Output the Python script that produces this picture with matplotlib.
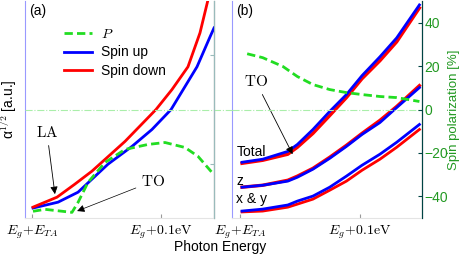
import numpy as np
import matplotlib
matplotlib.use("Agg")
import matplotlib.pyplot as plt

plt.rcParams['font.family'] = ['Liberation Sans', 'DejaVu Sans']
plt.rcParams['mathtext.fontset'] = 'cm'

# Panel (a): absorption (a.u.) and spin polarization (%) vs photon energy offset (eV)
a_down_x = [0.0008, 0.0194, 0.0330, 0.0465, 0.0721, 0.0961, 0.1085, 0.1209, 0.1302, 0.1364, 0.1395]
a_down_y = [0.50, 0.96, 1.55, 2.16, 3.53, 5.00, 5.92, 6.97, 8.53, 10.05, 10.60]
a_up_x = [0.0008, 0.0202, 0.0357, 0.0589, 0.0775, 0.0930, 0.1078, 0.1279, 0.1380, 0.1411]
a_up_y = [0.46, 0.73, 1.19, 2.48, 3.30, 4.08, 5.00, 6.97, 8.35, 8.76]
a_pol_x = [0.0008, 0.0101, 0.0310, 0.0357, 0.0434, 0.0566, 0.0721, 0.0899, 0.1031, 0.1186, 0.1287, 0.1395]
a_pol_y = [-46.9, -46.0, -47.4, -42.8, -33.6, -24.4, -18.4, -16.1, -15.2, -17.5, -21.6, -29.0]

# Panel (b): Total / z / x & y for both spins
b_x = [0.0017, 0.019, 0.040, 0.048, 0.061, 0.075, 0.089, 0.102, 0.117, 0.131, 0.150]
b_tot_up = [2.57, 2.71, 3.07, 3.39, 4.08, 4.91, 5.69, 6.56, 7.43, 8.30, 9.82]
b_tot_dn = [2.52, 2.66, 2.94, 3.26, 3.90, 4.72, 5.55, 6.42, 7.25, 8.12, 9.68]
b_z_up = [1.42, 1.51, 1.70, 1.88, 2.25, 2.75, 3.30, 3.85, 4.40, 5.09, 6.01]
b_z_dn = [1.42, 1.51, 1.74, 1.93, 2.29, 2.80, 3.35, 3.90, 4.50, 5.14, 6.10]
b_xy_up = [0.32, 0.41, 0.60, 0.78, 1.01, 1.42, 1.93, 2.43, 2.94, 3.49, 4.31]
b_xy_dn = [0.28, 0.32, 0.50, 0.64, 0.87, 1.28, 1.70, 2.20, 2.71, 3.26, 4.08]
b_pol_x = [0.006, 0.019, 0.036, 0.048, 0.061, 0.075, 0.089, 0.102, 0.117, 0.131, 0.150]
b_pol_y = [25.7, 23.9, 19.8, 15.2, 11.5, 9.2, 7.8, 6.9, 6.0, 5.5, 3.7]

xticks = [0.0, 0.1]
xticklabels = [r'$E_g\!+\!E_{TA}$', r'$E_g\!+\!0.1\mathrm{eV}$']

GREEN = '#22dd22'
LW = 2.0

fig = plt.figure(figsize=(4.63, 2.58), dpi=100)
axa = fig.add_axes([0.054, 0.155, 0.408, 0.841])
axb = fig.add_axes([0.501, 0.155, 0.410, 0.841])

for ax, xlim in ((axa, (-0.0054, 0.141)), (axb, (-0.0067, 0.152))):
    ax.set_xlim(*xlim)
    ax.set_ylim(0, 10)
    ax.set_yticks([])
    ax.set_xticks(xticks)
    ax.set_xticklabels(xticklabels, fontsize=10)
    ax.tick_params(axis='x', direction='in', length=3, pad=4, color='#999999')
    ax.spines['top'].set_visible(False)
    ax.spines['left'].set_color('#9999ff')
    ax.spines['bottom'].set_color('#e4e4e4')

axa2 = axa.twinx()
axb2 = axb.twinx()
for ax2 in (axa2, axb2):
    ax2.set_ylim(-50, 50)
    ax2.spines['top'].set_visible(False)
    ax2.spines['left'].set_visible(False)
    ax2.spines['bottom'].set_visible(False)
axa2.set_yticks([-25, 25])
axa2.set_yticklabels([])
axa2.tick_params(axis='y', direction='in', length=3, color='#99bbbb')
axa2.spines['right'].set_color('#99bbbb')
axb2.set_yticks([-40, -20, 0, 20, 40])
axb2.set_yticklabels(['\u221240', '\u221220', '0', '20', '40'])
axb2.tick_params(axis='y', direction='in', length=3, labelcolor='#229922',
                 labelsize=10, color='#004444', pad=2)
axb2.spines['right'].set_color('#004444')
axb2.set_ylabel('Spin polarization [%]', color='#229922', fontsize=9.5, labelpad=0)

# zero reference line spanning both panels
axa2.axhline(0, xmin=0, xmax=1.095, color='#aaeeaa', lw=0.8, ls='-.', clip_on=False, zorder=0)
axb2.axhline(0, color='#aaeeaa', lw=0.8, ls='-.', zorder=0)

# panel (a)
la, = axa2.plot(a_pol_x, a_pol_y, color=GREEN, lw=LW, ls='--', dashes=(3, 1.5))
lu, = axa.plot(a_up_x, a_up_y, color='b', lw=LW)
ld, = axa.plot(a_down_x, a_down_y, color='r', lw=LW)
axa.legend([la, lu, ld], ['$P$', 'Spin up', 'Spin down'], loc='upper left',
           bbox_to_anchor=(0.14, 0.94), frameon=False, fontsize=10,
           handlelength=2.0, handletextpad=0.7, labelspacing=0.35)
axa.text(0.02, 0.985, '(a)', transform=axa.transAxes, ha='left', va='top', fontsize=10)
axa.annotate(r'$\mathrm{LA}$', xy=(0.0178, 1.10), xytext=(0.0116, 3.94), fontsize=11,
             ha='center', va='center',
             arrowprops=dict(arrowstyle='-|>', lw=0.6, color='k', shrinkA=2, shrinkB=0))
axa.annotate(r'$\mathrm{TO}$', xy=(0.035, 0.32), xytext=(0.094, 1.70), fontsize=11,
             ha='center', va='center',
             arrowprops=dict(arrowstyle='-|>', lw=0.5, color='k', shrinkA=2, shrinkB=0))

# panel (b)
axb2.plot(b_pol_x, b_pol_y, color=GREEN, lw=LW, ls='--', dashes=(3, 1.5))
axb.plot(b_x, b_tot_dn, color='r', lw=LW + 0.4)
axb.plot(b_x, b_tot_up, color='b', lw=LW)
axb.plot(b_x, b_z_dn, color='r', lw=LW + 0.4)
axb.plot(b_x, b_z_up, color='b', lw=LW)
axb.plot(b_x, b_xy_dn, color='r', lw=LW)
axb.plot(b_x, b_xy_up, color='b', lw=LW)
axb.text(0.02, 0.985, '(b)', transform=axb.transAxes, ha='left', va='top', fontsize=10)
axb.text(-0.0025, 3.03, 'Total', fontsize=10, ha='left', va='center')
axb.text(-0.0025, 1.70, 'z', fontsize=10, ha='left', va='center')
axb.text(-0.0035, 0.87, 'x & y', fontsize=10, ha='left', va='center')
axb.annotate(r'$\mathrm{TO}$', xy=(0.044, 2.94), xytext=(0.0133, 6.28), fontsize=11,
             ha='center', va='center',
             arrowprops=dict(arrowstyle='-|>', lw=0.6, color='k', shrinkA=2, shrinkB=0))

axa.set_ylabel('\u03b1$^{1/2}$ [a.u.]', fontsize=10, labelpad=4)
fig.text(0.475, 0.015, 'Photon Energy', ha='center', va='bottom', fontsize=10)

fig.savefig('out.png', dpi=100)
